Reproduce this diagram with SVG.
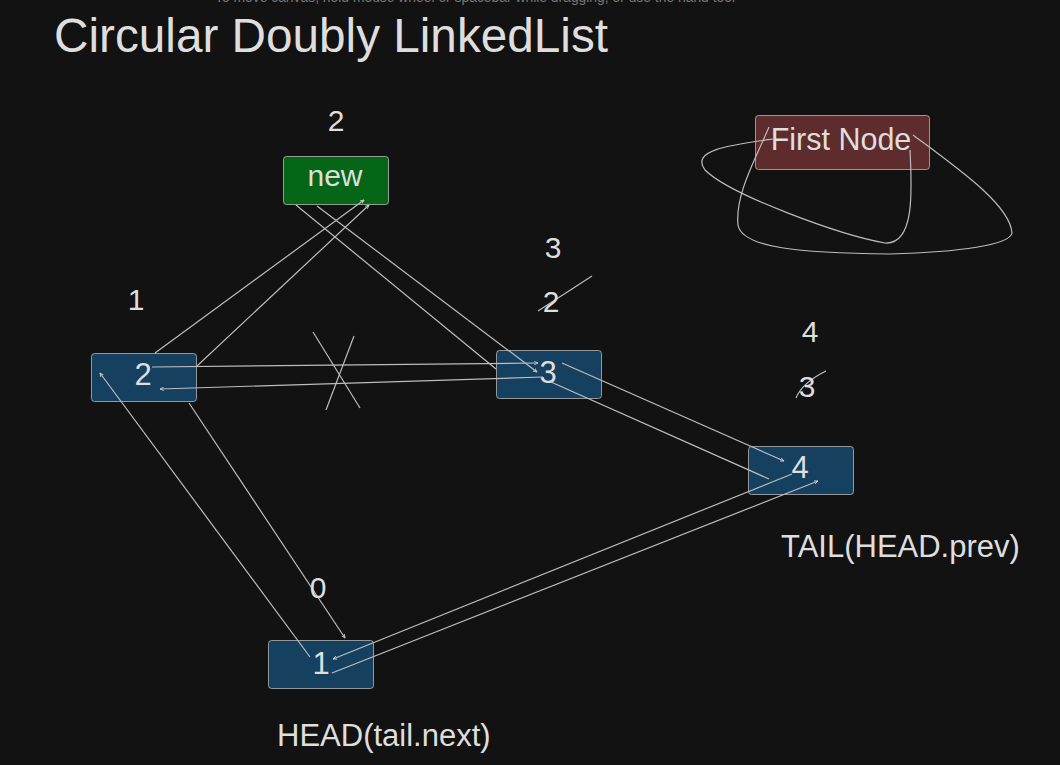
<svg xmlns="http://www.w3.org/2000/svg" width="1060" height="765" viewBox="0 0 1060 765">
<style>
.t{font-family:"Liberation Sans",Arial,sans-serif;fill:#dedede}
.n{stroke:#c8c8c8;stroke-width:1;stroke-opacity:0.7}
.b{fill:#16405f}
.c{stroke:#bdbdbd;stroke-width:1.2;fill:none}
</style>
<defs>
<marker id="a" viewBox="0 0 10 10" refX="9" refY="5" markerWidth="3.5" markerHeight="3.5" orient="auto"><path d="M0,1 L9,5 L0,9" fill="none" stroke="#ccc" stroke-width="2"/></marker>
</defs>
<rect width="1060" height="765" fill="#121212"/>
<text x="215" y="2" font-family="'Liberation Sans Narrow','Liberation Sans',sans-serif" font-size="14" fill="#777" textLength="520" lengthAdjust="spacingAndGlyphs">To move canvas, hold mouse wheel or spacebar while dragging, or use the hand tool</text>
<text class="t" x="54" y="52" font-size="48" textLength="554" lengthAdjust="spacingAndGlyphs">Circular Doubly LinkedList</text>

<g id="node-new"><rect x="283.5" y="156.5" width="105" height="48" rx="3" fill="#066617" class="n"/><text class="t" x="335" y="186" font-size="30" text-anchor="middle">new</text></g>
<g id="node-2"><rect x="91.5" y="353.5" width="105" height="48" rx="3" class="b n"/><text class="t" x="143" y="385" font-size="31" text-anchor="middle">2</text></g>
<g id="node-3"><rect x="496.5" y="350.5" width="105" height="48" rx="3" class="b n"/><text class="t" x="548" y="383" font-size="31" text-anchor="middle">3</text></g>
<g id="node-4"><rect x="748.5" y="446.5" width="105" height="48" rx="3" class="b n"/><text class="t" x="800" y="478" font-size="31" text-anchor="middle">4</text></g>
<g id="node-1"><rect x="268.5" y="640.5" width="105" height="48" rx="3" class="b n"/><text class="t" x="321" y="674" font-size="31" text-anchor="middle">1</text></g>
<g id="node-first"><rect x="755.5" y="115.5" width="174" height="54" rx="3" fill="#5e2c2c" class="n"/><text class="t" x="841" y="150" font-size="30.5" text-anchor="middle">First Node</text></g>

<g id="connectors">
<line class="c" x1="155" y1="353" x2="364" y2="200" marker-end="url(#a)"/>
<line class="c" x1="197" y1="366" x2="369" y2="205" marker-end="url(#a)"/>
<line class="c" x1="296" y1="205" x2="496" y2="369"/>
<line class="c" x1="317" y1="206" x2="537" y2="372" marker-end="url(#a)"/>
<line class="c" x1="152" y1="367" x2="538" y2="363" marker-end="url(#a)"/>
<line class="c" x1="543" y1="377" x2="160" y2="389" marker-end="url(#a)"/>
<line class="c" x1="313" y1="332" x2="360" y2="408"/>
<line class="c" x1="354" y1="336" x2="326" y2="410"/>
<line class="c" x1="562" y1="363" x2="784" y2="461" marker-end="url(#a)"/>
<line class="c" x1="551" y1="382" x2="769" y2="479"/>
<line class="c" x1="792" y1="474" x2="333" y2="659" marker-end="url(#a)"/>
<line class="c" x1="332" y1="673" x2="818" y2="481" marker-end="url(#a)"/>
<line class="c" x1="310" y1="657" x2="100" y2="373" marker-end="url(#a)"/>
<line class="c" x1="189" y1="403" x2="345" y2="638" marker-end="url(#a)"/>
<path class="c" d="M773,139 C730,145 690,150 705,170 C730,195 840,235 885,243 C915,245 912,190 910,150"/>
<path class="c" d="M769,127 C755,160 735,195 738,225 C742,248 800,253 890,254 C960,252 1010,245 1012,233 C1010,205 960,170 913,135"/>
<line class="c" x1="538" y1="311" x2="592" y2="276"/>
<path class="c" d="M796,398 C800,388 812,378 826,371"/>
</g>

<g id="labels">
<text class="t" x="336" y="131" font-size="30" text-anchor="middle">2</text>
<text class="t" x="553" y="258" font-size="30" text-anchor="middle">3</text>
<text class="t" x="551" y="312" font-size="30" text-anchor="middle">2</text>
<text class="t" x="136" y="310" font-size="30" text-anchor="middle">1</text>
<text class="t" x="810" y="342" font-size="30" text-anchor="middle">4</text>
<text class="t" x="807" y="397" font-size="30" text-anchor="middle">3</text>
<text class="t" x="318" y="598" font-size="30" text-anchor="middle">0</text>
<text class="t" x="781" y="557" font-size="31">TAIL(HEAD.prev)</text>
<text class="t" x="277" y="746" font-size="31">HEAD(tail.next)</text>
</g>
</svg>
